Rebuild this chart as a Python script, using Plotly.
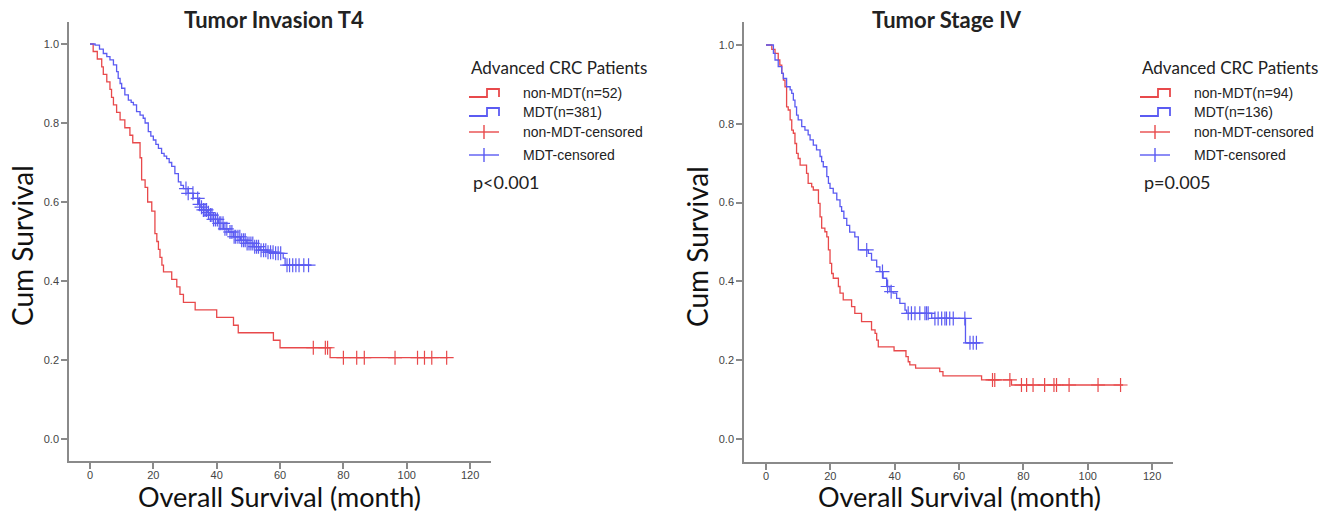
import numpy as np
import plotly.graph_objects as go

# ---------------- data ----------------
# Panel 1: Tumor Invasion T4
t4_nonmdt_t = [0, 1.0, 2.3, 3.7, 4.2, 5.3, 6.3, 6.8, 7.4, 8.4, 9.5, 11.0, 12.6, 13.5, 15.8, 16.3,
               17.4, 18.2, 19.5, 20.5, 21.1, 21.6, 22.1, 22.7, 23.2, 25.8, 27.4, 28.4, 29.5, 33.2,
               40.0, 45.3, 46.8, 57.9, 60.0, 75.8]
t4_nonmdt_s = [1.0, 0.981, 0.962, 0.942, 0.923, 0.904, 0.885, 0.865, 0.846, 0.827, 0.808, 0.788,
               0.769, 0.750, 0.712, 0.656, 0.637, 0.600, 0.577, 0.520, 0.500, 0.480, 0.460, 0.440,
               0.423, 0.404, 0.385, 0.366, 0.346, 0.327, 0.308, 0.288, 0.269, 0.250, 0.231, 0.206]
t4_nonmdt_end = 113.0
t4_nonmdt_cens = [70.5, 74.3, 75.0, 80.0, 84.2, 86.6, 96.3, 103.4, 105.6, 107.9, 112.6]

t4_mdt_t = [0, 1.6, 3.0, 4.2, 5.3, 6.3, 7.4, 8.4, 8.9, 9.5, 10.0, 11.0, 12.1, 13.0, 13.7, 14.7,
            15.8, 16.8, 17.4, 18.4, 19.2, 20.0, 20.8, 21.6, 22.6, 23.4, 24.2, 25.0, 25.8, 26.8,
            27.9, 28.7, 29.5, 31.0, 32.6, 34.2, 35.0, 35.8, 37.0, 37.9, 39.0, 40.5, 42.1, 43.7,
            45.3, 47.5, 49.5, 51.5, 53.7, 56.0, 58.5, 61.0, 61.6]
t4_mdt_s = [1.0, 0.997, 0.987, 0.976, 0.968, 0.960, 0.947, 0.930, 0.913, 0.900, 0.888, 0.871,
            0.858, 0.852, 0.846, 0.829, 0.820, 0.812, 0.800, 0.778, 0.767, 0.757, 0.746, 0.736,
            0.723, 0.716, 0.710, 0.700, 0.690, 0.672, 0.651, 0.642, 0.634, 0.622, 0.609, 0.594,
            0.587, 0.580, 0.573, 0.567, 0.556, 0.546, 0.532, 0.524, 0.512, 0.503, 0.495, 0.487,
            0.478, 0.473, 0.470, 0.458, 0.440]
t4_mdt_end = 70.0
t4_mdt_cens = [30.3, 31.0, 32.5, 34.0, 34.6, 35.2, 35.8, 36.3, 36.8, 37.4, 38.0, 38.5, 39.0, 39.6,
               40.2, 40.8, 41.3, 42.0, 42.6, 43.2, 44.2, 44.8, 45.5, 46.0, 46.7, 47.3, 47.9, 48.5,
               49.0, 49.6, 50.2, 50.8, 51.4, 52.0, 52.6, 53.2, 54.0, 54.8, 55.5, 56.2, 57.0, 57.8,
               58.6, 59.4, 60.2, 62.2, 63.0, 64.0, 65.0, 66.0, 67.5, 69.0]

# Panel 2: Tumor Stage IV
s4_nonmdt_t = [0, 1.8, 2.8, 3.8, 4.3, 4.9, 5.4, 5.9, 6.4, 6.9, 7.5, 8.0, 8.5, 9.0, 9.5, 10.0, 10.6,
               12.6, 13.1, 14.2, 14.7, 16.3, 16.8, 17.3, 18.3, 18.9, 19.4, 19.9, 20.4, 20.9, 22.5,
               23.0, 24.0, 26.6, 27.6, 29.7, 32.8, 33.9, 34.4, 34.9, 39.8, 43.5, 44.2, 44.7, 46.5,
               54.0, 55.0, 67.0, 76.3]
s4_nonmdt_s = [1.0, 0.989, 0.979, 0.962, 0.949, 0.928, 0.911, 0.894, 0.843, 0.835, 0.810, 0.784,
               0.776, 0.750, 0.725, 0.712, 0.695, 0.674, 0.649, 0.640, 0.632, 0.598, 0.564, 0.535,
               0.526, 0.513, 0.480, 0.446, 0.420, 0.408, 0.387, 0.370, 0.353, 0.336, 0.319, 0.298,
               0.277, 0.268, 0.251, 0.234, 0.224, 0.209, 0.196, 0.188, 0.180, 0.171, 0.160, 0.150,
               0.137]
s4_nonmdt_end = 111.0
s4_nonmdt_cens = [70.4, 71.1, 75.8, 79.4, 81.0, 83.0, 86.6, 89.5, 90.3, 94.2, 103.2, 110.2]

s4_mdt_t = [0, 2.3, 2.8, 3.8, 4.9, 5.4, 6.4, 7.5, 8.0, 8.5, 9.0, 9.5, 10.0, 11.1, 12.1, 13.1, 13.7,
            14.7, 15.7, 16.8, 17.3, 17.8, 18.9, 19.4, 19.9, 20.9, 22.0, 23.0, 23.5, 24.2, 25.1,
            26.0, 27.6, 28.7, 31.8, 32.8, 34.4, 35.4, 36.4, 37.5, 38.5, 39.5, 40.6, 41.6, 43.2,
            43.7, 51.5, 62.0]
s4_mdt_s = [1.0, 0.979, 0.962, 0.945, 0.928, 0.915, 0.894, 0.886, 0.877, 0.860, 0.843, 0.822,
            0.810, 0.793, 0.784, 0.772, 0.759, 0.746, 0.734, 0.717, 0.704, 0.691, 0.666, 0.649,
            0.636, 0.624, 0.607, 0.590, 0.578, 0.560, 0.542, 0.525, 0.513, 0.480, 0.471, 0.454,
            0.437, 0.425, 0.408, 0.387, 0.374, 0.370, 0.357, 0.344, 0.327, 0.319, 0.306, 0.244]
s4_mdt_end = 66.5
s4_mdt_cens = [31.3, 36.2, 37.8, 38.9, 44.2, 45.2, 46.3, 47.8, 49.4, 49.9, 50.4, 52.5, 53.5, 54.6,
               55.6, 56.1, 57.1, 58.2, 61.8, 63.4, 64.4, 65.4]

panel_titles = ["Tumor Invasion T4", "Tumor Stage IV"]
legend_title = "Advanced CRC Patients"
legend_items = [["non-MDT(n=52)", "MDT(n=381)", "non-MDT-censored", "MDT-censored"],
                ["non-MDT(n=94)", "MDT(n=136)", "non-MDT-censored", "MDT-censored"]]
p_texts = ["p<0.001", "p=0.005"]
x_ticks = [0, 20, 40, 60, 80, 100, 120]
y_ticks = [0.0, 0.2, 0.4, 0.6, 0.8, 1.0]

# ---------------- styling / layout ----------------
W, H = 1332, 514
RED = "#E8494B"
BLUE = "#5B5BF2"
AXC = "#8a8a8a"
TXT = "#222222"


def px(x):
    return x / W


def py(y):
    return 1 - y / H


fig = go.Figure()

panels = [
    dict(xd=[px(69), px(491)], yd=[py(461), py(22)], xr=[-6.63, 126.6], yr=[-0.0557, 1.0557],
         curves=[(t4_nonmdt_t, t4_nonmdt_s, t4_nonmdt_end, t4_nonmdt_cens, RED),
                 (t4_mdt_t, t4_mdt_s, t4_mdt_end, t4_mdt_cens, BLUE)],
         title_x=274, leg_x=469, ylab_x=22, xlab_x=279),
    dict(xd=[px(744), px(1173)], yd=[py(462), py(22)], xr=[-6.84, 126.5], yr=[-0.0584, 1.0584],
         curves=[(s4_nonmdt_t, s4_nonmdt_s, s4_nonmdt_end, s4_nonmdt_cens, RED),
                 (s4_mdt_t, s4_mdt_s, s4_mdt_end, s4_mdt_cens, BLUE)],
         title_x=947, leg_x=1140, ylab_x=697, xlab_x=959),
]

annotations = []
shapes = []

for i, p in enumerate(panels):
    xa = "x" if i == 0 else "x2"
    ya = "y" if i == 0 else "y2"
    for (t, s, tend, cens, col) in p["curves"]:
        t_arr = np.array(t)
        s_arr = np.array(s)
        fig.add_trace(go.Scatter(x=list(t_arr) + [tend], y=list(s_arr) + [s_arr[-1]],
                                 mode="lines", line=dict(color=col, width=1.3, shape="hv"),
                                 xaxis=xa, yaxis=ya, showlegend=False, hoverinfo="skip"))
        c = np.array(cens)
        idx = np.searchsorted(t_arr, c, side="right") - 1
        fig.add_trace(go.Scatter(x=c, y=s_arr[idx], mode="markers",
                                 marker=dict(symbol="cross-thin", size=10,
                                             line=dict(color=col, width=1.2)),
                                 xaxis=xa, yaxis=ya, showlegend=False, hoverinfo="skip"))

    axis_common = dict(showline=True, linecolor=AXC, linewidth=1.5, ticks="outside", ticklen=6,
                       tickwidth=1.5, tickcolor=AXC, showgrid=False, zeroline=False,
                       tickfont=dict(family="Liberation Sans, Arial", size=11, color="#444"))
    fig.update_layout(**{
        ("xaxis" if i == 0 else "xaxis2"): dict(domain=p["xd"], range=p["xr"], tickvals=x_ticks,
                                                 anchor=ya, ticklabelstandoff=-3, **axis_common),
        ("yaxis" if i == 0 else "yaxis2"): dict(domain=p["yd"], range=p["yr"], tickvals=y_ticks,
                                                 tickformat=".1f", anchor=xa, **axis_common),
    })

    # panel title
    annotations.append(dict(x=px(p["title_x"]), y=py(20), xref="paper", yref="paper",
                            text="<b>" + panel_titles[i] + "</b>", showarrow=False,
                            font=dict(family="Lato", size=22, color=TXT),
                            xanchor="center", yanchor="middle"))
    # axis titles
    annotations.append(dict(x=px(p["ylab_x"]), y=py(246), xref="paper", yref="paper",
                            text="Cum Survival", showarrow=False, textangle=-90,
                            font=dict(family="Lato", size=28, color="#111"),
                            xanchor="center", yanchor="middle"))
    annotations.append(dict(x=px(p["xlab_x"]), y=py(514), xref="paper", yref="paper",
                            text="Overall Survival (month)", showarrow=False,
                            font=dict(family="Lato", size=27, color="#111"),
                            xanchor="center", yanchor="bottom", borderpad=0))
    # legend
    lx = p["leg_x"]
    annotations.append(dict(x=px(lx), y=py(68), xref="paper", yref="paper", text=legend_title,
                            showarrow=False, font=dict(family="Lato", size=17, color=TXT),
                            xanchor="left", yanchor="middle"))
    rows = [93, 112, 132, 155]
    cols = [RED, BLUE, RED, BLUE]
    for k, (ry, col) in enumerate(zip(rows, cols)):
        annotations.append(dict(x=px(lx + 52), y=py(ry), xref="paper", yref="paper",
                                text=legend_items[i][k], showarrow=False,
                                font=dict(family="Liberation Sans, Arial", size=14, color=TXT),
                                xanchor="left", yanchor="middle"))
        if k < 2:
            x0, x1, x2 = lx, lx + 18, lx + 30
            ylo, yhi = ry + 4, ry - 4
            path = "M %f,%f L %f,%f L %f,%f L %f,%f L %f,%f" % (
                px(x0), py(ylo), px(x1), py(ylo), px(x1), py(yhi), px(x2), py(yhi), px(x2),
                py(ylo))
            shapes.append(dict(type="path", path=path, xref="paper", yref="paper",
                               line=dict(color=col, width=1.8)))
        else:
            shapes.append(dict(type="line", x0=px(lx), x1=px(lx + 30), y0=py(ry), y1=py(ry),
                               xref="paper", yref="paper", line=dict(color=col, width=1.4)))
            shapes.append(dict(type="line", x0=px(lx + 15), x1=px(lx + 15), y0=py(ry - 7),
                               y1=py(ry + 7), xref="paper", yref="paper",
                               line=dict(color=col, width=1.4)))
    annotations.append(dict(x=px(lx + 2), y=py(182), xref="paper", yref="paper",
                            text=p_texts[i], showarrow=False,
                            font=dict(family="Lato", size=18, color=TXT),
                            xanchor="left", yanchor="middle"))

fig.update_layout(width=W, height=H, margin=dict(l=0, r=0, t=0, b=0),
                  paper_bgcolor="white", plot_bgcolor="white",
                  annotations=annotations, shapes=shapes, showlegend=False)

fig.write_html("out.html", config={"displayModeBar": False},
               post_script="document.body.style.margin='0px';document.body.style.overflow='hidden';")
